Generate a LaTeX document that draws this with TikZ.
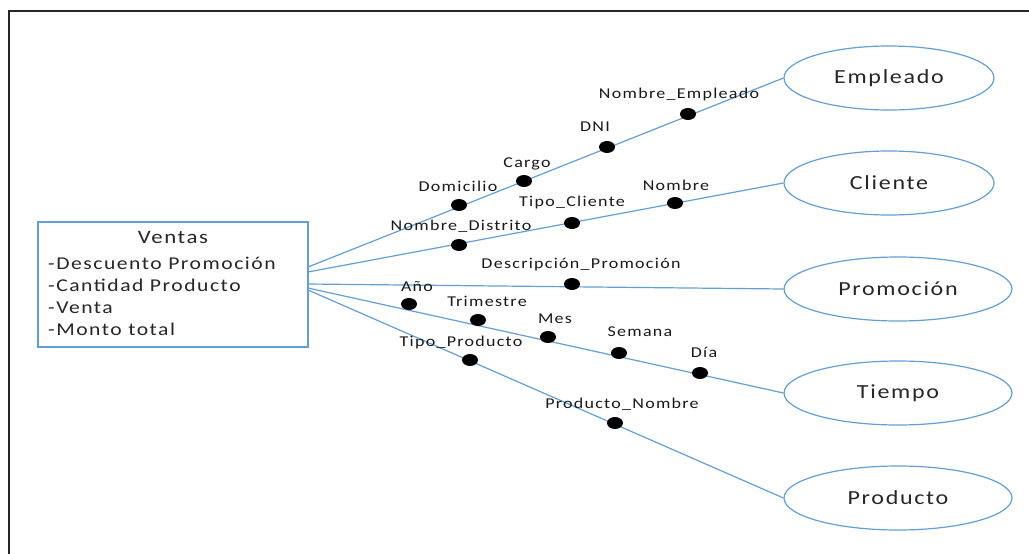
\documentclass[tikz,border=0pt]{standalone}
\usepackage{fontspec}
\setmainfont{Carlito}[FakeStretch=1.2, LetterSpace=8.5]
\usetikzlibrary{shapes.geometric}
\definecolor{linkblue}{RGB}{98,158,216}
\tikzset{
  link/.style={draw=linkblue, line width=1.2pt},
  entity/.style={ellipse, draw=linkblue, line width=1.2pt, inner sep=0pt,
    minimum height=64pt, text=black!85, font=\fontsize{20}{24}\selectfont},
  attrdot/.style={ellipse, fill=black, inner sep=0pt, minimum width=16pt, minimum height=12pt},
  attrlbl/.style={inner sep=0pt, text height=0.7em, text depth=0.25em, text=black!90, font=\fontsize{15}{18}\selectfont},
  boxline/.style={anchor=west, inner sep=0pt, text height=0.7em, text depth=0.25em, text=black!85, font=\fontsize{18}{22}\selectfont},
}
\begin{document}
\begin{tikzpicture}[x=1pt, y=-1pt]
\useasboundingbox (0,0) rectangle (1029,554);
% outer frame (left and top edges)
\draw[line width=2pt, black!85] (9,554) -- (9,11) -- (1029,11);

% fact table
\node[draw=linkblue, line width=1.2pt, minimum width=270pt, minimum height=125pt, inner sep=0pt] (ventas) at (173,284.5) {};
\node[inner sep=0pt, text height=0.7em, text depth=0.25em, text=black!85, font=\fontsize{19}{22}\selectfont] (vtitle) at (173,241) {Ventas};
\node[boxline] (va1) at (48,267) {-Descuento Promoción};
\node[boxline] (va2) at (48,289) {-Cantidad Producto};
\node[boxline] (va3) at (48,311) {-Venta};
\node[boxline] (va4) at (48,333) {-Monto total};

% dimensions
\node[entity, minimum width=210pt] (emp) at (889,78) {Empleado};
\node[entity, minimum width=210pt] (cli) at (889,183) {Cliente};
\node[entity, minimum width=228pt] (pro) at (898,289) {Promoción};
\node[entity, minimum width=228pt] (tie) at (898,393) {Tiempo};
\node[entity, minimum width=228pt] (prd) at (898,498) {Producto};

% start points on the fact table's right side
\coordinate (s1) at (308,267);
\coordinate (s2) at (308,272);
\coordinate (s3) at (308,284);
\coordinate (s4) at (308,288);
\coordinate (s5) at (308,290);

\draw[link] (s1) -- (emp.west);
\draw[link] (s2) -- (cli.west);
\draw[link] (s3) -- (pro.west);
\draw[link] (s4) -- (tie.west);
\draw[link] (s5) -- (prd.west);

% attribute markers
\node[attrdot] (d1) at (459,205) {};
\node[attrdot] (d2) at (524,181) {};
\node[attrdot] (d3) at (607,147) {};
\node[attrdot] (d4) at (688,114) {};
\node[attrdot] (d5) at (459,245) {};
\node[attrdot] (d6) at (572,223) {};
\node[attrdot] (d7) at (675,203) {};
\node[attrdot] (d8) at (572,284) {};
\node[attrdot] (d9) at (409,304) {};
\node[attrdot] (d10) at (478,320) {};
\node[attrdot] (d11) at (548,337) {};
\node[attrdot] (d12) at (619,353) {};
\node[attrdot] (d13) at (700,373) {};
\node[attrdot] (d14) at (470,360) {};
\node[attrdot] (d15) at (615,423) {};

% attribute labels
\node[attrlbl] (l1) at (458,189) {Domicilio};
\node[attrlbl] (l2) at (527,165) {Cargo};
\node[attrlbl] (l3) at (595,129) {DNI};
\node[attrlbl] (l4) at (679,96) {Nombre\_Empleado};
\node[attrlbl] (l5) at (461,228) {Nombre\_Distrito};
\node[attrlbl] (l6) at (572,204) {Tipo\_Cliente};
\node[attrlbl] (l7) at (676,188) {Nombre};
\node[attrlbl] (l8) at (581,266) {Descripción\_Promoción};
\node[attrlbl] (l9) at (417,289) {Año};
\node[attrlbl] (l10) at (487,304) {Trimestre};
\node[attrlbl] (l11) at (555,321) {Mes};
\node[attrlbl] (l12) at (640,334) {Semana};
\node[attrlbl] (l13) at (704,355) {Día};
\node[attrlbl] (l14) at (461,344) {Tipo\_Producto};
\node[attrlbl] (l15) at (622,406) {Producto\_Nombre};
\end{tikzpicture}
\end{document}
